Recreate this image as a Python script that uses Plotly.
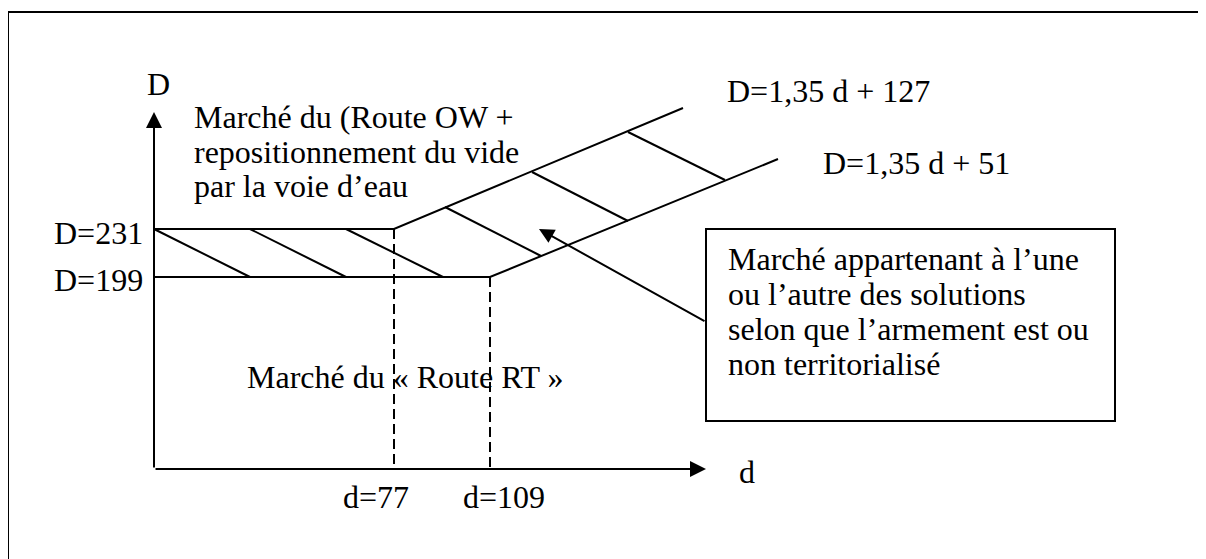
import plotly.graph_objects as go

# ---------------------------------------------------------------------------
# Diagram data (schematic units, y grows downward)
# ---------------------------------------------------------------------------

# the two market thresholds: horizontal level, knee where the slope starts,
# and the end of the sloped part
LEVEL_LABELS = ["D=231", "D=199"]
LEVEL_Y = [229, 277]
KNEE_X = [394, 490]
SLOPE_END_X = [683, 778]
SLOPE_END_Y = [108, 159]
SLOPE_LABELS = ["D=1,35 d + 127", "D=1,35 d + 51"]

D_LABELS = ["d=77", "d=109"]

# axes
ORIGIN_X, ORIGIN_Y = 154, 469
Y_AXIS_TOP = 112
X_AXIS_END = 706

# hatching between the two thresholds
HATCH_TOP_X = [154, 250, 346, 445, 532, 628]
HATCH_TOP_Y = [229, 229, 229, 207, 172, 132]
HATCH_BOT_X = [250, 346, 443, 541, 628, 725]
HATCH_BOT_Y = [277, 277, 277, 256, 221, 180]

OW_TEXT = ["Marché du (Route OW +", "repositionnement du vide", "par la voie d’eau"]
RT_TEXT = "Marché du « Route RT »"
BOX_TEXT = [
    "Marché appartenant à l’une",
    "ou l’autre des solutions",
    "selon que l’armement est ou",
    "non territorialisé",
]

FONT = dict(family="Liberation Serif, Times New Roman, serif", size=32, color="black")
LINE = dict(color="black", width=2)

# the page body has an 8px margin, so the plot area starts at (8, 8)
PAGE_OFFSET = 8
PAGE_W, PAGE_H = 1206, 559

fig = go.Figure()

# threshold lines: horizontal part then sloped part
for ly, kx, ex, ey in zip(LEVEL_Y, KNEE_X, SLOPE_END_X, SLOPE_END_Y):
    fig.add_scatter(x=[ORIGIN_X, kx, ex], y=[ly, ly, ey], mode="lines",
                    line=LINE, hoverinfo="skip")

# hatching
hx, hy = [], []
for x0, y0, x1, y1 in zip(HATCH_TOP_X, HATCH_TOP_Y, HATCH_BOT_X, HATCH_BOT_Y):
    hx += [x0, x1, None]
    hy += [y0, y1, None]
fig.add_scatter(x=hx, y=hy, mode="lines", line=LINE, hoverinfo="skip")

# dashed verticals at the knees
for kx, ly in zip(KNEE_X, LEVEL_Y):
    fig.add_scatter(x=[kx, kx], y=[ly, ORIGIN_Y], mode="lines",
                    line=dict(color="black", width=2, dash="10px,5px"), hoverinfo="skip")

# axes with arrow heads
for tx, ty in [(ORIGIN_X, Y_AXIS_TOP), (X_AXIS_END, ORIGIN_Y)]:
    fig.add_annotation(x=tx, y=ty, ax=ORIGIN_X, ay=ORIGIN_Y, xref="x", yref="y",
                       axref="x", ayref="y", showarrow=True, arrowhead=2,
                       arrowsize=1.6, arrowwidth=2, arrowcolor="black", text="")

# callout box and its pointer
BOX = dict(x0=706, y0=229, x1=1115, y1=421)
fig.add_shape(type="rect", xref="x", yref="y", line=LINE, fillcolor="white", **BOX)
fig.add_annotation(x=539, y=229, ax=BOX["x0"], ay=322, xref="x", yref="y",
                   axref="x", ayref="y", showarrow=True, arrowhead=2,
                   arrowsize=1.5, arrowwidth=2, arrowcolor="black", text="")

# outer frame (only top and left edges are inside the picture)
fig.add_shape(type="line", xref="x", yref="y", x0=8, y0=12, x1=PAGE_W, y1=12, line=LINE)
fig.add_shape(type="line", xref="x", yref="y", x0=8, y0=12, x1=8, y1=PAGE_H, line=LINE)


def label(text, x, y, anchor="left"):
    fig.add_annotation(x=x, y=y, xref="x", yref="y", text=text, showarrow=False,
                       xanchor=anchor, yanchor="middle", font=FONT)


label("D", 158, 84, "center")
label("d", 737, 472)
for t, y in zip(OW_TEXT, [117, 152, 186]):
    label(t, 192, y)
for t, y in zip(LEVEL_LABELS, [233, 280]):
    label(t, 52, y)
for t, x, y in zip(SLOPE_LABELS, [725, 821], [91, 163]):
    label(t, x, y)
label(RT_TEXT, 245, 377)
for t, x in zip(D_LABELS, [341, 461]):
    label(t, x, 497)
for t, y in zip(BOX_TEXT, [259, 294, 329, 364]):
    label(t, 726, y)

fig.update_layout(
    width=PAGE_W - PAGE_OFFSET, height=PAGE_H - PAGE_OFFSET,
    margin=dict(l=0, r=0, t=0, b=0),
    plot_bgcolor="white", paper_bgcolor="white",
    showlegend=False,
    xaxis=dict(range=[PAGE_OFFSET, PAGE_W], visible=False, fixedrange=True),
    yaxis=dict(range=[PAGE_H, PAGE_OFFSET], visible=False, fixedrange=True),
)

fig.write_html("out.html", config={"displayModeBar": False})
